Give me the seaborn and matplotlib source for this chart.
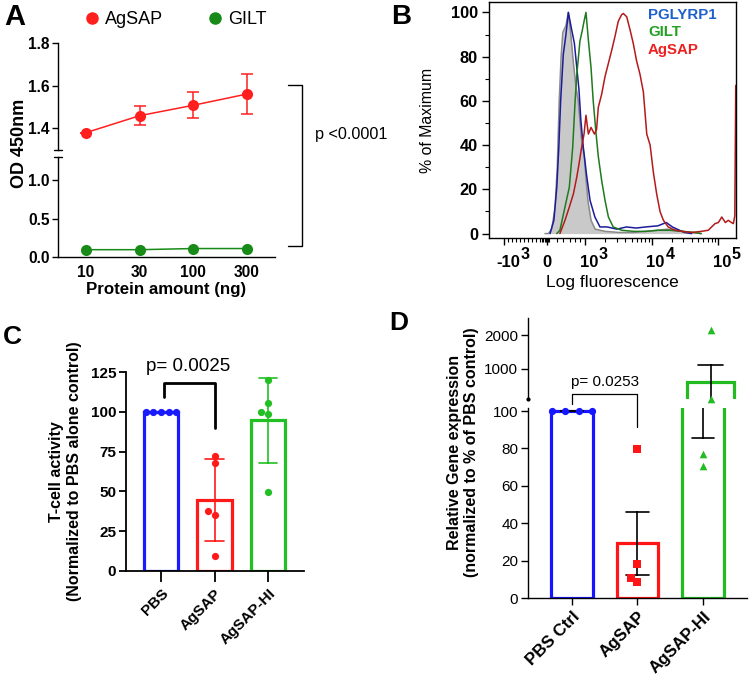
import numpy as np
import pandas as pd
import matplotlib
matplotlib.use("Agg")
import matplotlib.pyplot as plt
from matplotlib.lines import Line2D
import matplotlib.transforms as mtrans
import seaborn as sns

# ---- panel A: ELISA, OD 450nm vs protein amount ----
amounts = ["10", "30", "100", "300"]
agsap_od = [1.378, 1.458, 1.507, 1.560]
agsap_err = [0.0, 0.045, 0.061, 0.094]
gilt_od = [0.095, 0.095, 0.11, 0.11]

# ---- panel B: flow histograms, x in display channels (0-1024), y in % of max ----
gray_ch = [232, 246, 260, 274, 283, 291, 299, 306, 319, 329, 339, 350, 361, 370, 384, 395, 402, 410, 423, 440,
           481, 540, 600, 650, 700, 740, 780, 830, 880]
gray_pct = [0, 0, 2, 12, 30, 60, 80, 91, 94, 100, 90, 77, 66, 60, 42, 35, 25, 15, 6, 2,
            1, 0.5, 0.5, 1, 1.5, 2, 1.5, 0.5, 0]
blue_ch = [253, 269, 281, 289, 297, 308, 319, 329, 343, 354, 364, 373, 381, 391, 405, 419, 439, 460,
           490, 530, 570, 610, 650, 700, 735, 760, 790, 810, 840]
blue_pct = [0, 6, 21, 38, 60, 81, 90, 100, 92, 86, 75, 65, 51, 39, 26, 15, 7.5, 3,
            3, 2, 3, 2.5, 3, 3.5, 5, 3, 1.5, 0.5, 0]
green_ch = [281, 294, 315, 333, 347, 357, 364, 377, 387, 395, 402, 412, 423, 432, 444, 453, 467, 481,
            495, 515, 550, 600, 650, 700, 750, 800, 854, 880]
green_pct = [0, 1.5, 12, 21, 39, 60, 72, 87, 92, 96.5, 100, 87.5, 75, 60, 45, 35, 24, 15,
             7.5, 3, 1.5, 1, 1, 1.5, 1.5, 1, 0.5, 0]
red_ch = [294, 315, 333, 350, 364, 374, 384, 394, 402, 412, 423, 437, 446, 453, 467, 481, 495, 509, 522, 536,
          550, 557, 571, 585, 598, 612, 626, 640, 654, 668, 681, 695, 709, 723, 743, 771, 800, 840, 880, 909,
          937, 951, 965, 980, 992, 1005, 1013, 1019, 1023]
red_pct = [0, 6, 12, 18, 25.6, 32, 39, 45, 53.5, 45, 48, 45, 47, 57, 63, 71, 77, 83, 89, 96,
           99, 99.5, 98, 92, 86, 78, 72, 64, 45, 40, 28, 18, 10, 6, 3, 1.5, 1, 0.5, 1, 1.5,
           4.5, 5, 7.5, 5, 6, 5, 4.5, 8, 67]
b_tick_pos = [62, 240, 398, 674, 950]
b_tick_base = ["-10", "0", "10", "10", "10"]
b_tick_exp = ["3", "", "3", "4", "5"]

# ---- panel C: T-cell activity ----
c_groups = ["PBS", "AgSAP", "AgSAP-HI"]
c_pbs = [100, 100, 100, 100, 100]
c_agsap = [72.2, 67.6, 37.9, 35.2, 9.6]
c_hi = [120, 105.7, 100, 98.6, 49.4]

# ---- panel D: relative gene expression ----
d_groups = ["PBS Ctrl", "AgSAP", "AgSAP-HI"]
d_pbs = [100, 100, 100, 100]
d_agsap = [79.6, 18.4, 10.7, 8.6]
d_hi = [2150, 110, 76.8, 70.7]

RED_A, GREEN_A = "#ff1f1f", "#178a17"
c_colors = ["#1a1aff", "#ff1a1a", "#22c022"]
d_colors = ["#1515ff", "#ff1515", "#22bb22"]

sns.set_style("ticks")
plt.rcParams["font.family"] = ["Liberation Sans", "DejaVu Sans"]
plt.rcParams["axes.edgecolor"] = "black"
plt.rcParams["axes.linewidth"] = 1.0
plt.rcParams["xtick.color"] = "black"
plt.rcParams["ytick.color"] = "black"
plt.rcParams["text.color"] = "black"

W, H = 750, 678
fig = plt.figure(figsize=(W / 100, H / 100), dpi=100)


def box(x0, y0, x1, y1):
    return fig.add_axes([x0 / W, 1 - y1 / H, (x1 - x0) / W, (y1 - y0) / H])


def fx(x):
    return x / W


def fy(y):
    return 1 - y / H


def bold_ticks(ax, size, which="both"):
    labels = []
    if which in ("both", "x"):
        labels += ax.get_xticklabels()
    if which in ("both", "y"):
        labels += ax.get_yticklabels()
    for t in labels:
        t.set_fontweight("bold")
        t.set_fontsize(size)


# =========================== A ===========================
axA_top = box(58, 43, 275, 150)
axA_bot = box(58, 157, 275, 257)
xa = np.arange(len(amounts))
for ax in (axA_top, axA_bot):
    ax.errorbar(xa, agsap_od, yerr=agsap_err, fmt="none", ecolor=RED_A, elinewidth=1.1,
                capsize=4, capthick=1.1)
    sns.lineplot(x=xa, y=agsap_od, color=RED_A, marker="o", markersize=8, markeredgewidth=0,
                 linewidth=1.1, ax=ax)
    sns.lineplot(x=xa, y=gilt_od, color=GREEN_A, marker="o", markersize=8, markeredgewidth=0,
                 linewidth=1.1, ax=ax)
    ax.set_xlim(-0.52, 3.52)
    ax.spines[["top", "right"]].set_visible(False)
    ax.tick_params(axis="y", length=4, width=1, pad=2)

axA_top.set_ylim(1.2965, 1.8)
axA_top.set_yticks([1.4, 1.6, 1.8], ["1.4", "1.6", "1.8"])
axA_top.spines["bottom"].set_visible(False)
axA_top.tick_params(axis="x", bottom=False, labelbottom=False)
axA_bot.set_ylim(0, 1.3)
axA_bot.set_yticks([0, 0.5, 1.0], ["0.0", "0.5", "1.0"])
axA_bot.set_xticks(xa, amounts)
axA_bot.tick_params(axis="x", length=0, pad=6)
bold_ticks(axA_top, 11.2, "y")
bold_ticks(axA_bot, 11.2)
# break caps on the y axis
axA_top.plot([-0.02, 0.02], [0, 0], transform=axA_top.transAxes, color="k", lw=1, clip_on=False)
axA_bot.plot([-0.02, 0.02], [1, 1], transform=axA_bot.transAxes, color="k", lw=1, clip_on=False)

fig.text(fx(20), fy(143), "OD 450nm", rotation=90, ha="center", va="center", fontsize=13,
         fontweight="bold")
fig.text(fx(166), fy(290), "Protein amount (ng)", ha="center", va="center", fontsize=12.2,
         fontweight="bold")
handles = [Line2D([], [], color=RED_A, marker="o", ms=8, lw=0),
           Line2D([], [], color=GREEN_A, marker="o", ms=8, lw=0)]
fig.legend(handles, ["AgSAP", "GILT"], loc="center left", bbox_to_anchor=(fx(83), fy(20)), ncol=2,
           frameon=False, fontsize=13, handlelength=1.0, handletextpad=0.2, columnspacing=2.4,
           borderpad=0, borderaxespad=0)
fig.add_artist(Line2D([fx(288), fx(302), fx(302), fx(288)], [fy(85), fy(85), fy(246), fy(246)],
                      transform=fig.transFigure, color="k", lw=1.0))
fig.text(fx(315), fy(135), "p <0.0001", ha="left", va="center", fontsize=11.7)
fig.text(fx(4), fy(17), "A", ha="left", va="center", fontsize=21, fontweight="bold")

# =========================== B ===========================
axB = box(489, 2, 736, 238)
axB.fill_between(gray_ch, gray_pct, color="#c9c9c9", lw=0)
sns.lineplot(x=gray_ch, y=gray_pct, color="#8a8a8a", lw=1.1, sort=False, estimator=None, ax=axB)
sns.lineplot(x=blue_ch, y=blue_pct, color="#1c1c9a", lw=1.1, sort=False, estimator=None, ax=axB)
sns.lineplot(x=green_ch, y=green_pct, color="#1f7a1f", lw=1.1, sort=False, estimator=None, ax=axB)
sns.lineplot(x=red_ch, y=red_pct, color="#b31b1b", lw=1.1, sort=False, estimator=None, ax=axB)
axB.set_xlim(0, 1024)
axB.set_ylim(-2, 104.7)
axB.set_yticks([0, 20, 40, 60, 80, 100])
axB.set_yticks(np.arange(10, 100, 20), minor=True)
axB.set_xticks(b_tick_pos)
axB.set_xticklabels([])
minor_x = list(np.linspace(62, 210, 10)[1:]) + list(np.linspace(218, 249, 6)) + [281, 308, 336, 357, 378]
for dec in (398, 674):
    minor_x += [dec + 276 * np.log10(k) for k in range(2, 10)]
axB.set_xticks(minor_x, minor=True)
axB.tick_params(axis="both", which="major", length=5, width=1)
axB.tick_params(axis="both", which="minor", length=3, width=0.8)
axB.tick_params(axis="y", which="major", pad=3)
bold_ticks(axB, 11.8, "y")
axB.set_xlabel("")
axB.set_ylabel("")
tr = mtrans.blended_transform_factory(axB.transData, axB.transAxes)
for pos, base, ex in zip(b_tick_pos, b_tick_base, b_tick_exp):
    t = axB.text(pos + (16 if ex else 0), -0.102, base, transform=tr, ha="center", va="center",
                 fontsize=12, fontweight="bold", clip_on=False)
    if ex:
        axB.annotate(ex, xy=(1, 0.5), xycoords=t, xytext=(0.5, 0), textcoords="offset points",
                     ha="left", va="bottom", fontsize=11.5, fontweight="bold")
fig.text(fx(612), fy(283), "Log fluorescence", ha="center", va="center", fontsize=12.5)
fig.text(fx(427), fy(120), "% of Maximum", rotation=90, ha="center", va="center", fontsize=11.4)
for yy, lab, col in [(15, "PGLYRP1", "#1f5fcc"), (32, "GILT", "#22a022"), (50, "AgSAP", "#ee2020")]:
    fig.text(fx(648), fy(yy), lab, ha="left", va="center", fontsize=10.8, fontweight="bold", color=col)
fig.text(fx(391), fy(17), "B", ha="left", va="center", fontsize=20, fontweight="bold")

# =========================== C ===========================
axC = box(126, 372, 304, 571)
c_df = pd.DataFrame({"group": np.repeat(c_groups, [len(c_pbs), len(c_agsap), len(c_hi)]),
                     "value": c_pbs + c_agsap + c_hi})
sns.barplot(data=c_df, x="group", y="value", hue="group", order=c_groups, hue_order=c_groups,
            palette=c_colors, fill=False, linewidth=2.3, width=0.64, errorbar="sd", capsize=0.34,
            err_kws={"linewidth": 1.2}, legend=False, ax=axC)
for line, col in zip(axC.lines, c_colors):
    line.set_color(col)
for grp, col in zip(c_groups, c_colors):
    sns.swarmplot(data=c_df[c_df.group == grp], x="group", y="value", order=c_groups, color=col,
                  size=5.2, ax=axC)
axC.set_xlim(-0.654, 2.67)
axC.set_ylim(0, 125)
axC.set_yticks([0, 25, 50, 75, 100, 125])
axC.set_xticks(range(3), c_groups, rotation=45, ha="right", rotation_mode="anchor")
axC.spines[["top", "right"]].set_visible(False)
axC.spines[["left", "bottom"]].set_linewidth(1.3)
axC.tick_params(axis="x", length=8, width=1.3, pad=3)
axC.tick_params(axis="y", length=5, width=1.3, pad=2)
bold_ticks(axC, 11)
axC.set_xlabel("")
axC.set_ylabel("")
axC.plot([0.05, 0.05, 1, 1], [109, 118.3, 118.3, 90], color="k", lw=2.0, clip_on=False)
axC.text(0.5, 128.3, "p= 0.0025", ha="center", va="center", fontsize=13.5, clip_on=False)
fig.text(fx(66), fy(471.5), "T-cell activity\n(Normalized to PBS alone control)", rotation=90,
         ha="center", va="center", fontsize=11.5, fontweight="bold", linespacing=1.25,
         multialignment="center")
fig.text(fx(3), fy(337), "C", ha="left", va="center", fontsize=19, fontweight="bold")

# =========================== D ===========================
D_TOP_LIM = (104, 2522)
D_BOT_LIM = (0, 101.5)
axD_top = box(528, 318, 747, 399)
axD_bot = box(528, 408.2, 747, 598)
d_df = pd.DataFrame({"group": np.repeat(d_groups, [len(d_pbs), len(d_agsap), len(d_hi)]),
                     "value": d_pbs + d_agsap + d_hi})
for ax in (axD_top, axD_bot):
    sns.barplot(data=d_df, x="group", y="value", hue="group", order=d_groups, hue_order=d_groups,
                palette=d_colors, fill=False, linewidth=2.3, width=0.64, errorbar="se", capsize=0.34,
                err_kws={"color": "k", "linewidth": 1.2}, legend=False, ax=ax)
    ax.set_xlim(-0.672, 2.672)
    ax.spines[["top", "right"]].set_visible(False)
    ax.tick_params(axis="y", length=5, width=1, pad=2, labelsize=11)
# bars and error bars that end below the break are not shown in the upper segment
for bar in axD_top.patches:
    if bar.get_height() < D_TOP_LIM[0] * 1.5:
        bar.set_visible(False)
for line in axD_top.lines:
    if np.nanmax(line.get_ydata()) < D_TOP_LIM[0] * 1.5:
        line.set_visible(False)

# PBS replicates spread across the bar width
pbs_df = pd.DataFrame({"group": d_groups[0], "value": d_pbs, "rep": [f"r{i}" for i in range(len(d_pbs))]})
n0 = len(axD_bot.collections)
sns.stripplot(data=pbs_df, x="group", y="value", hue="rep", order=d_groups, dodge=True, jitter=False,
              palette=[d_colors[0]] * len(d_pbs), size=5.2, legend=False, ax=axD_bot)
for coll in axD_bot.collections[n0:]:
    coll.set_clip_on(False)
sns.swarmplot(data=d_df[d_df.group == d_groups[1]], x="group", y="value", order=d_groups,
              color=d_colors[1], marker="s", size=5.2, ax=axD_bot)
sns.swarmplot(data=d_df[d_df.group == d_groups[2]], x="group", y="value", order=d_groups,
              color=d_colors[2], marker="^", size=5.5, ax=axD_bot)
hi_top = d_df[(d_df.group == d_groups[2]) & (d_df.value > D_TOP_LIM[0])]
n0 = len(axD_top.collections)
sns.swarmplot(data=hi_top, x="group", y="value", order=d_groups, color=d_colors[2], marker="^",
              size=5.5, ax=axD_top)
for coll in axD_top.collections[n0:]:
    coll.set_clip_on(False)

for ax in (axD_top, axD_bot):
    ax.set_xlabel("")
    ax.set_ylabel("")
axD_top.set_ylim(*D_TOP_LIM)
axD_top.set_yticks([1000, 2000])
axD_top.spines["bottom"].set_visible(False)
axD_top.tick_params(axis="x", bottom=False, labelbottom=False)
axD_top.plot([0], [0], transform=axD_top.transAxes, marker="o", ms=2, color="k", clip_on=False)
axD_bot.set_ylim(*D_BOT_LIM)
axD_bot.set_yticks([0, 20, 40, 60, 80, 100])
axD_bot.set_xticks(range(3), d_groups, rotation=45, ha="right", rotation_mode="anchor")
axD_bot.tick_params(axis="x", length=5, width=1, pad=3)
bold_ticks(axD_bot, 12.2, "x")
axD_bot.set_xlim(-0.672, 2.672)
axD_bot.plot([0, 0, 1, 1], [104, 109, 109, 91.6], color="k", lw=0.9, clip_on=False)
axD_bot.text(0.5, 115.5, "p= 0.0253", ha="center", va="center", fontsize=11, clip_on=False)
fig.text(fx(463), fy(452), "Relative Gene expression\n(normalized to % of PBS control)", rotation=90,
         ha="center", va="center", fontsize=11.5, fontweight="bold", linespacing=1.15,
         multialignment="center")
fig.text(fx(389), fy(323), "D", ha="left", va="center", fontsize=19, fontweight="bold")

fig.savefig("out.png", dpi=100)
